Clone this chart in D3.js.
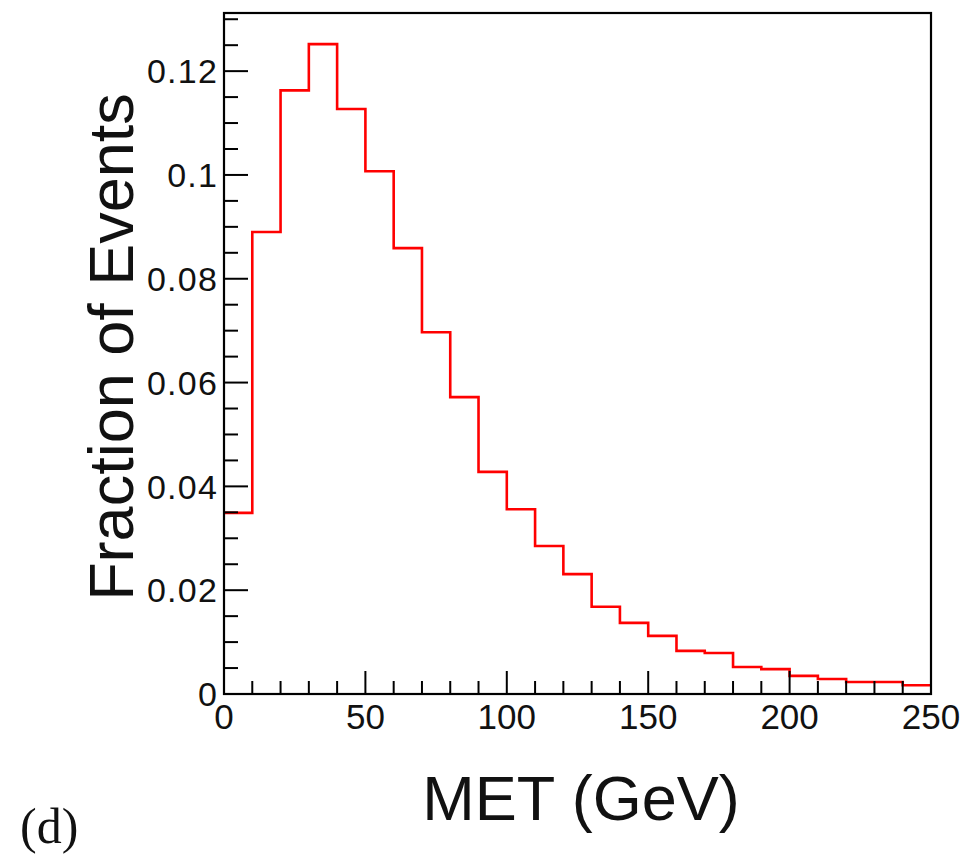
<!DOCTYPE html>
<html>
<head>
<meta charset="utf-8">
<script src="https://cdn.jsdelivr.net/npm/d3@7"></script>
<style>
  html, body { margin: 0; padding: 0; background: #fff; }
  svg { display: block; }
</style>
</head>
<body>
<svg id="chart" width="970" height="857"></svg>
<script>
// ---- data ----
const binEdgesLow = [0,10,20,30,40,50,60,70,80,90,100,110,120,130,140,150,160,170,180,190,200,210,220,230,240];
const binWidth = 10;
const fractions = [0.0349,0.0890,0.1163,0.1252,0.1127,0.1007,0.0859,0.0697,0.0572,0.0428,0.0356,0.0285,0.0231,0.0168,0.0137,0.0112,0.0083,0.0079,0.0052,0.0048,0.0035,0.0029,0.0023,0.0023,0.0017];
const xTickValues = [0,50,100,150,200,250];
const yTickValues = [0,0.02,0.04,0.06,0.08,0.1,0.12];
const yTickLabels = ["0","0.02","0.04","0.06","0.08","0.1","0.12"];
const xTitle = "MET (GeV)";
const yTitle = "Fraction of Events";
const panelLabel = "(d)";

// ---- layout ----
const plotL = 224, plotR = 931, plotT = 13, plotB = 694;
const svg = d3.select("#chart");
const x = d3.scaleLinear().domain([0, 250]).range([plotL, plotR]);
const y = d3.scaleLinear().domain([0, 0.1312]).range([plotB, plotT]);

// histogram step line
const pts = [];
binEdgesLow.forEach((lo, i) => {
  pts.push([lo, fractions[i]]);
  pts.push([lo + binWidth, fractions[i]]);
});
const line = d3.line().x(d => x(d[0])).y(d => y(d[1]));
svg.append("path")
  .attr("d", line(pts))
  .attr("fill", "none")
  .attr("stroke", "#ff0000")
  .attr("stroke-width", 2.6)
  .attr("stroke-linejoin", "miter");

// minor/major ticks
const g = svg.append("g").attr("stroke", "#000").attr("stroke-width", 2);
d3.range(0, 251, 10).forEach(v => {
  const major = v % 50 === 0;
  g.append("line").attr("x1", x(v)).attr("x2", x(v))
    .attr("y1", plotB).attr("y2", plotB - (major ? 23 : 13));
});
d3.range(0, 27).map(i => i * 0.005).forEach((v, i) => {
  if (y(v) < plotT + 1) return;
  const major = i % 4 === 0;
  g.append("line").attr("y1", y(v)).attr("y2", y(v))
    .attr("x1", plotL).attr("x2", plotL + (major ? 24 : 14));
});

// frame
svg.append("rect")
  .attr("x", plotL).attr("y", plotT)
  .attr("width", plotR - plotL).attr("height", plotB - plotT)
  .attr("fill", "none").attr("stroke", "#000").attr("stroke-width", 2.2);

// tick labels
const font = "'Liberation Sans', Arial, Helvetica, sans-serif";
svg.append("g").selectAll("text").data(xTickValues).join("text")
  .attr("x", d => x(d)).attr("y", 729)
  .attr("text-anchor", "middle")
  .attr("font-family", font).attr("font-size", 35)
  .attr("fill", "#111")
  .text(d => d);

svg.append("g").selectAll("text").data(yTickValues).join("text")
  .attr("x", plotL - 6).attr("y", d => y(d))
  .attr("dy", "0.36em")
  .attr("text-anchor", "end")
  .attr("font-family", font).attr("font-size", 34)
  .attr("letter-spacing", 1.2)
  .attr("fill", "#111")
  .text((d, i) => yTickLabels[i]);

// axis titles
svg.append("text")
  .attr("x", 581).attr("y", 820)
  .attr("text-anchor", "middle")
  .attr("font-family", font).attr("font-size", 63)
  .attr("fill", "#111")
  .text(xTitle);

svg.append("text")
  .attr("transform", "translate(133,347) rotate(-90)")
  .attr("text-anchor", "middle")
  .attr("font-family", font).attr("font-size", 63)
  .attr("fill", "#111")
  .text(yTitle);

// panel label
svg.append("text")
  .attr("x", 20).attr("y", 843)
  .attr("font-family", "'Liberation Serif', 'Times New Roman', serif")
  .attr("font-size", 50)
  .attr("fill", "#111")
  .text(panelLabel);
</script>
</body>
</html>
